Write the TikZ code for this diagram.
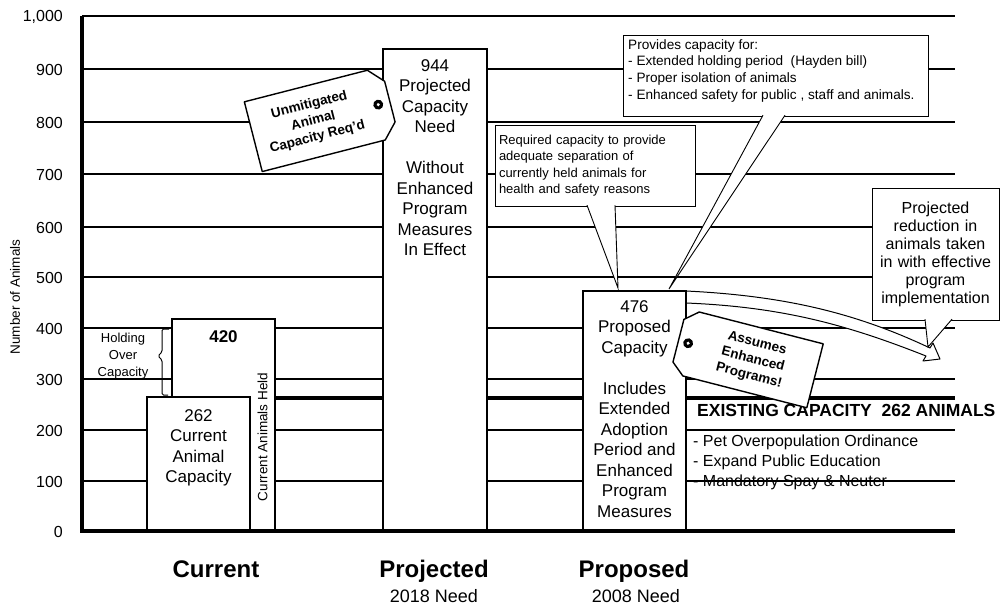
\documentclass[tikz,border=0pt]{standalone}
\usepackage{fontspec}
\setmainfont{Liberation Sans}
\usetikzlibrary{positioning}

\tikzset{
  gridline/.style={line width=1.2pt},
  axisline/.style={line width=3.6pt},
  bar/.style={draw, fill=white, line width=2.4pt, inner sep=0pt, outer sep=0pt, anchor=south west},
  bartext/.style={align=center, inner sep=0pt, font=\fontsize{17}{20.5}\selectfont},
  ticklabel/.style={anchor=east, inner sep=0pt, font=\fontsize{16}{16}\selectfont},
  callbox/.style={draw, fill=white, line width=0.9pt, outer sep=0pt},
  calltext/.style={align=left, inner sep=0pt, font=\fontsize{13}{16.5}\selectfont},
  tagshape/.style={draw, fill=white, line width=1.4pt, line join=round},
  tagtext/.style={align=center, inner sep=0pt, font=\bfseries\fontsize{13.5}{16.5}\selectfont},
  catlabel/.style={anchor=base, inner sep=0pt, font=\bfseries\fontsize{24}{24}\selectfont},
  needlabel/.style={anchor=base, inner sep=0pt, font=\fontsize{18}{18}\selectfont},
}

\begin{document}
\begin{tikzpicture}[x=1pt, y=-1pt]
    \useasboundingbox (0,0) rectangle (1001,607);
    % grid and values
    \foreach \py/\lab [count=\i] in {531/0, 481/100, 430/200, 379/300, 328/400, 277/500, 227/600, 174/700, 122/800, 69/900, 16/{1,000}} {
        \draw[gridline] (82,\py) -- (955,\py);
        \node[ticklabel] (tick\i) at (63,\py+1) {\lab};
    }
    \node[rotate=90, inner sep=0pt, font=\fontsize{13.5}{13.5}\selectfont] (ylabel) at (15,297) {Number of Animals};
    % existing capacity line
    \draw[line width=4.4pt] (275,398) -- (955,398);
    % reduction arrow
    \draw[fill=white, line width=1pt, line join=round] (676,291) -- (686,291) .. controls (790,296) and (860,315) .. (930,348) -- (933,343) -- (940,359) -- (923,361) -- (926,356) .. controls (850,326) and (785,307) .. (686,303) -- (676,303);
    % bars
    \node[bar, minimum width=103pt, minimum height=211pt] (heldbar) at (172,530) {};
    \node[bar, minimum width=103pt, minimum height=133pt] (capbar) at (147,530) {};
    \node[bar, minimum width=104pt, minimum height=481pt] (projbar) at (383,530) {};
    \node[bar, minimum width=103pt, minimum height=239pt] (propbar) at (583,530) {};
    \draw[axisline] (82,16) -- (82,531) -- (955,531);
    % bar texts
    \node[bartext, font=\bfseries\fontsize{17}{20.5}\selectfont, below=11pt of heldbar.north] (heldval) {420};
    \node[bartext, below=12pt of capbar.north] (curtext) {262\\Current\\Animal\\Capacity};
    \node[bartext, below=10pt of projbar.north] (projtext) {944\\Projected\\Capacity\\Need\\[20.5pt]Without\\Enhanced\\Program\\Measures\\In Effect};
    \node[bartext, below=9pt of propbar.north] (proptext) {476\\Proposed\\Capacity\\[20.5pt]Includes\\Extended\\Adoption\\Period and\\Enhanced\\Program\\Measures};
    \node[rotate=90, inner sep=0pt, font=\fontsize{13.5}{13.5}\selectfont] (heldtext) at (262.5,437) {Current Animals Held};
    % holding over capacity
    \draw[line width=1pt, rounded corners=1.5pt] (169,329) -- (162,329) -- (162,352) -- (158,356) -- (162,360) -- (162,395) -- (168,395);
    \node[align=center, inner sep=0pt, font=\fontsize{13}{17}\selectfont] (holdtext) at (123,356) {Holding\\Over\\Capacity};
    % callouts
    \node[callbox, calltext, text width=192pt, inner xsep=4pt, minimum height=81pt, anchor=north west] (sepbox) at (495,125) {Required capacity to provide\\adequate separation of\\currently held animals for\\health and safety reasons};
    \coordinate (tipB) at (618,288);
    \draw[callbox] ([xshift=92pt, yshift=0.8pt]sepbox.south west) -- (tipB) -- ([xshift=120pt, yshift=0.8pt]sepbox.south west);
    \node[callbox, minimum width=305pt, minimum height=81pt, anchor=north west] (provbox) at (623,35) {};
    \node[calltext, font=\fontsize{13.6}{16.8}\selectfont, anchor=north west] (provtext) at ([shift={(5pt,-4pt)}]provbox.north west) {Provides capacity for:\\- Extended holding period\ \ (Hayden bill)\\- Proper isolation of animals\\- Enhanced safety for public , staff and animals.};
    \coordinate (tipA) at (669,289);
    \draw[callbox] ([xshift=140pt, yshift=0.8pt]provbox.south west) -- (tipA) -- ([xshift=162pt, yshift=0.8pt]provbox.south west);
    \node[callbox, align=center, text width=119pt, inner xsep=4pt, inner ysep=0pt, minimum height=132pt, anchor=north west, font=\fontsize{16}{18}\selectfont] (redbox) at (872,188) {Projected\\reduction in\\animals taken\\in with effective\\program\\implementation};
    \coordinate (tipC) at (928,347);
    \draw[callbox] ([xshift=53pt, yshift=0.8pt]redbox.south west) -- (tipC) -- ([xshift=80pt, yshift=0.8pt]redbox.south west);
    % existing capacity and measures
    \node[anchor=west, inner sep=0pt, font=\bfseries\fontsize{17.5}{17.5}\selectfont] (existing) at (697,410) {EXISTING CAPACITY\ \ 262 ANIMALS};
    \node[anchor=west, align=left, inner sep=0pt, font=\fontsize{16}{20}\selectfont] (measures) at (693,462) {- Pet Overpopulation Ordinance\\- Expand Public Education\\- Mandatory Spay \& Neuter};
    % tags
    \begin{scope}[shift={(253.3,136.7)}, rotate=14.4]
        \draw[tagshape] (0,-36) -- (127,-36) -- (141,-21) -- (141,21) -- (127,36) -- (0,36) -- cycle;
        \fill (129,0) circle (5pt);
        \fill[white] (129,0) circle (1.7pt);
        \node[tagtext, rotate=14.4] (needtag) at (62,0) {Unmitigated\\Animal\\Capacity Req'd};
    \end{scope}
    \begin{scope}[shift={(815,375.8)}, rotate=-14.4, xscale=-1]
        \draw[tagshape] (0,-33) -- (128,-33) -- (141,-22) -- (141,22) -- (128,33) -- (0,33) -- cycle;
        \fill (131,0) circle (5pt);
        \fill[white] (131,0) circle (1.7pt);
        \node[tagtext, rotate=-14.4] (progtag) at (64,0) {Assumes\\Enhanced\\Programs!};
    \end{scope}
    % categories
    \node[catlabel] (curlab) at (216,577) {Current};
    \node[catlabel] (projlab) at (434,577) {Projected};
    \node[catlabel] (proplab) at (634,577) {Proposed};
    \node[needlabel] (projneed) at (434,602) {2018 Need};
    \node[needlabel] (propneed) at (636,602) {2008 Need};
\end{tikzpicture}
\end{document}
